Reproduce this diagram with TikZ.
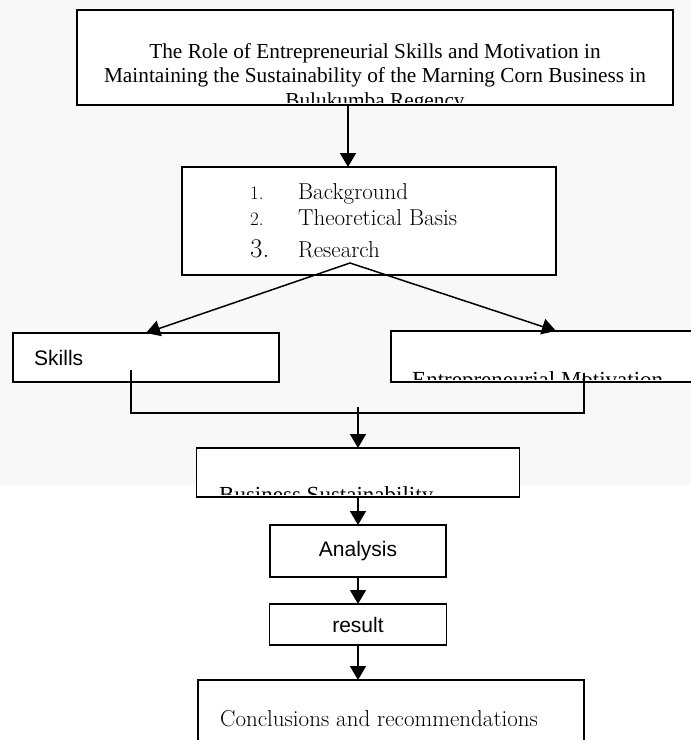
\documentclass[tikz,border=0pt]{standalone}
\usepackage{fontspec}
\usepackage{xcolor}
\usepackage{tikz}
\usetikzlibrary{arrows.meta}
\newfontfamily\timesfont{Liberation Serif}
\newfontfamily\arialfont{Liberation Sans}
\definecolor{pagegray}{RGB}{247,248,250}
\tikzstyle{box}=[draw=black,line width=1.8pt,fill=white,inner sep=0pt,outer sep=0pt]
\tikzstyle{flow}=[line width=1.5pt,-{Triangle[length=14pt,width=16pt]}]
\tikzstyle{link}=[line width=1.5pt]
\tikzstyle{serif}=[inner sep=0pt,font=\timesfont\fontsize{21.3}{24}\selectfont]
\tikzstyle{serifbig}=[inner sep=0pt,font=\timesfont\fontsize{23}{26}\selectfont]
\tikzstyle{sans}=[inner sep=0pt,font=\arialfont\fontsize{21}{24}\selectfont]
\tikzstyle{book}=[inner sep=0pt,font=\fontsize{23}{26}\selectfont]
\tikzstyle{num}=[inner sep=0pt,font=\fontsize{19}{22}\selectfont]

\begin{document}
\begin{tikzpicture}[x=1pt,y=-1pt]
	\fill[white] (0,0) rectangle (691,740);
	\fill[pagegray] (0,0) rectangle (691,485);
	\useasboundingbox (0,0) rectangle (691,740);
	% title box, last line cut by the frame
	\node[box,minimum width=596pt,minimum height=95pt] (title) at (375,57.5) {};
	\begin{scope}
		\clip (title.north west) rectangle ([yshift=3pt]title.south east);
		\node[serif,anchor=base] (title-a) at (375,58) {The Role of Entrepreneurial Skills and Motivation in};
		\node[serif,anchor=base] (title-b) at (375,82) {Maintaining the Sustainability of the Marning Corn Business in};
		\node[serif,anchor=base] (title-c) at (375,107) {Bulukumba Regency};
	\end{scope}
	% chapters
	\node[box,minimum width=374pt,minimum height=108pt] (basis) at (369,221) {};
	\node[num,anchor=base west] (num-a) at (250,199) {1.};
	\node[num,anchor=base west] (num-b) at (250,225) {2.};
	\node[book,anchor=base west,font=\fontsize{27}{30}\selectfont] (num-c) at (250,257) {3.};
	\node[book,anchor=base west] (item-a) at (298,199) {Background};
	\node[book,anchor=base west] (item-b) at (298,225) {Theoretical Basis};
	\node[book,anchor=base west] (item-c) at (298,257) {Research};
	\coordinate (split) at (350,263);
	% variables
	\node[box,minimum width=266pt,minimum height=49pt] (skills) at (146,357.5) {};
	\node[sans,anchor=base west] (skills-t) at (34,365) {Skills};
	\node[box,minimum width=330pt,minimum height=51pt] (motiv) at (556,356.5) {};
	\begin{scope}
		\clip (motiv.north west) rectangle ([yshift=3pt]motiv.south east);
		\node[serifbig,anchor=base west] (motiv-t) at (412,387) {Entrepreneurial Motivation};
	\end{scope}
	\coordinate (merge) at (358,413);
	\node[box,minimum width=323pt,minimum height=49pt] (sustain) at (358,472.5) {};
	\begin{scope}
		\clip (sustain.north west) rectangle ([yshift=3pt]sustain.south east);
		\node[serifbig,anchor=base west] (sustain-t) at (219,502) {Business Sustainability};
	\end{scope}
	% steps
	\node[box,sans,minimum width=176pt,minimum height=52pt] (analysis) at (358,551) {Analysis};
	\node[box,sans,minimum width=177pt,minimum height=41pt] (result) at (358,624.5) {result};
	\node[box,minimum width=386pt,minimum height=80pt] (concl) at (391,720) {};
	\node[book,anchor=base west] (concl-t) at (220,726) {Conclusions and recommendations};

	\draw[flow] ([xshift=-27pt]title.south) -- ([xshift=-21pt]basis.north);
	\draw[flow] (split) -- (skills.north);
	\draw[flow] (split) -- (motiv.north);
	\draw[link] ([xshift=-15pt,yshift=12pt]skills.south) |- (merge) -| ([xshift=28pt,yshift=9pt]motiv.south);
	\draw[flow] ([yshift=6pt]merge) -- (sustain.north);
	\draw[flow] (sustain.south) -- (sustain.south |- analysis.north);
	\draw[flow] (analysis.south) -- (analysis.south |- result.north);
	\draw[flow] (result.south) -- (result.south |- concl.north);
\end{tikzpicture}
\end{document}
